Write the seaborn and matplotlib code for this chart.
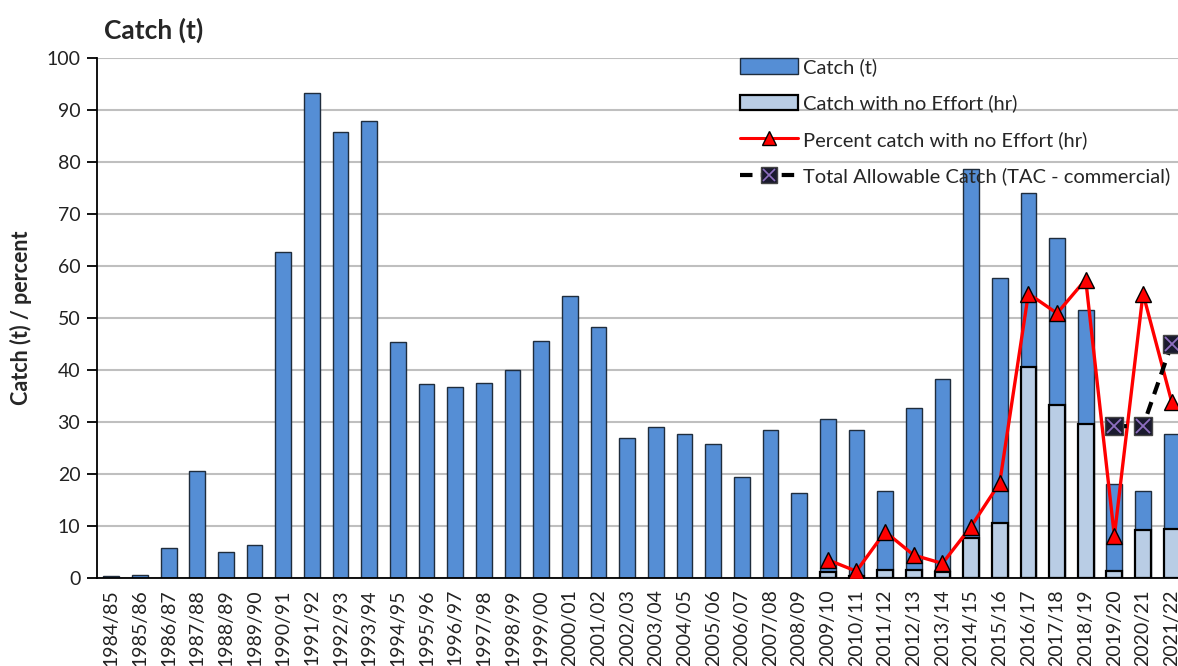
import numpy as np
import pandas as pd
import matplotlib
matplotlib.use("Agg")
import matplotlib.pyplot as plt
from matplotlib.lines import Line2D
from matplotlib.patches import Patch
import seaborn as sns

# -------------------------------
# Data
# -------------------------------
seasons = ["1984/85", "1985/86", "1986/87", "1987/88", "1988/89", "1989/90",
           "1990/91", "1991/92", "1992/93", "1993/94", "1994/95", "1995/96",
           "1996/97", "1997/98", "1998/99", "1999/00", "2000/01", "2001/02",
           "2002/03", "2003/04", "2004/05", "2005/06", "2006/07", "2007/08",
           "2008/09", "2009/10", "2010/11", "2011/12", "2012/13", "2013/14",
           "2014/15", "2015/16", "2016/17", "2017/18", "2018/19", "2019/20",
           "2020/21", "2021/22"]

catch_t = [0.3, 0.5, 5.7, 20.5, 5.0, 6.3,
           62.7, 93.3, 85.8, 87.8, 45.3, 37.3,
           36.7, 37.5, 40.0, 45.5, 54.2, 48.2,
           27.0, 29.0, 27.7, 25.7, 19.5, 28.5,
           16.3, 30.5, 28.5, 16.8, 32.6, 38.3,
           78.7, 57.7, 74.0, 65.3, 51.5, 18.0,
           16.8, 27.7]

no_effort = [0, 0, 0, 0, 0, 0,
             0, 0, 0, 0, 0, 0,
             0, 0, 0, 0, 0, 0,
             0, 0, 0, 0, 0, 0,
             0, 1.2, 0.3, 1.5, 1.5, 1.2,
             7.6, 10.6, 40.6, 33.3, 29.7, 1.4,
             9.2, 9.4]

# percent line starts at 2009/10
pct_seasons = seasons[25:]
pct_no_effort = [3.5, 1.3, 8.9, 4.4, 2.8, 9.9, 18.3, 54.7, 50.9, 57.4, 8.1, 54.7, 33.9]

# TAC starts at 2019/20
tac_seasons = seasons[35:]
tac = [29.2, 29.2, 45.0]

# -------------------------------
# Figure
# -------------------------------
sns.set_style("white")
plt.rcParams['font.family'] = ['Lato', 'DejaVu Sans']

fig = plt.figure(figsize=(11.78, 6.66), dpi=100)
ax = fig.add_axes([97 / 1178, 88 / 666, 1089 / 1178, 520 / 666])

df = pd.DataFrame({"season": seasons, "catch": catch_t, "noeff": no_effort})
pos = {s: i for i, s in enumerate(seasons)}

sns.barplot(data=df, x="season", y="catch", color="#558ED5", saturation=1,
            width=0.55, edgecolor="#1F2D3D", linewidth=1.0, ax=ax, zorder=2)
sns.barplot(data=df, x="season", y="noeff", color="#B9CDE5", saturation=1,
            width=0.55, edgecolor="black", linewidth=1.6, ax=ax, zorder=3)
# hide zero-height light bars
for p in ax.patches[len(seasons):]:
    if p.get_height() == 0:
        p.set_visible(False)

pct_df = pd.DataFrame({"x": [pos[s] for s in pct_seasons], "y": pct_no_effort})
sns.lineplot(data=pct_df, x="x", y="y", color="red", lw=2.4, marker="^",
             markersize=12, markerfacecolor="red", markeredgecolor="black",
             markeredgewidth=1.0, ax=ax, zorder=5)

tac_df = pd.DataFrame({"x": [pos[s] for s in tac_seasons], "y": tac})
sns.lineplot(data=tac_df, x="x", y="y", color="black", lw=3.0, ax=ax, zorder=6,
             dashes=False, linestyle=(0, (3, 2)))
ax.plot(tac_df["x"], tac_df["y"], ls="none", marker="s", markersize=13,
        markerfacecolor="#1A1A2E", markeredgecolor="#444444", zorder=7)
ax.plot(tac_df["x"], tac_df["y"], ls="none", marker="x", markersize=10,
        markeredgecolor="#8E6FBF", markeredgewidth=1.3, zorder=8)

# -------------------------------
# Axes styling
# -------------------------------
ax.set_xlim(-0.5, len(seasons) - 0.5)
ax.set_ylim(0, 100)
ax.set_yticks(range(0, 101, 10))
ax.yaxis.grid(True, color="#BFBFBF", lw=1.5, zorder=0)
ax.set_axisbelow(True)
for sp in ["top", "right"]:
    ax.spines[sp].set_visible(False)
for sp in ["left", "bottom"]:
    ax.spines[sp].set_color("black")
    ax.spines[sp].set_linewidth(1.3)

ax.set_xticks(range(len(seasons)))
ax.set_xticklabels(seasons, rotation=90, fontsize=14, color="#222222")
ax.set_xticks(np.arange(-0.5, len(seasons), 1), minor=True)
ax.tick_params(axis="x", which="major", length=0, pad=8)
ax.tick_params(axis="x", which="minor", length=6, width=1.3, color="black", direction="out")
ax.tick_params(axis="y", length=7, width=1.3, color="black", direction="out",
               labelsize=14, labelcolor="#222222", left=True, pad=5)

ax.set_xlabel("")
ax.set_ylabel("Catch (t) / percent", fontsize=15.5, fontweight="bold", labelpad=10)
fig.text(104 / 1178, 1 - 30 / 666, "Catch (t)", fontsize=19, fontweight="bold",
         va="center", ha="left")

# -------------------------------
# Legend
# -------------------------------
handles = [
    Patch(facecolor="#558ED5", edgecolor="#1F2D3D", lw=1.0),
    Patch(facecolor="#B9CDE5", edgecolor="black", lw=1.6),
    Line2D([], [], color="red", lw=2.2, marker="^", markersize=10,
           markerfacecolor="red", markeredgecolor="black"),
    (Line2D([], [], color="black", lw=3.0, linestyle=(0, (3, 2))),
     Line2D([], [], ls="none", marker="s", markersize=11,
            markerfacecolor="#1A1A2E", markeredgecolor="#444444"),
     Line2D([], [], ls="none", marker="x", markersize=8,
            markeredgecolor="#8E6FBF", markeredgewidth=1.2)),
]
labels = ["Catch (t)", "Catch with no Effort (hr)",
          "Percent catch with no Effort (hr)",
          "Total Allowable Catch (TAC - commercial)"]
fig.legend(handles, labels, loc="upper left", bbox_to_anchor=(732 / 1178, 1 - 50 / 666),
           frameon=False, fontsize=14.5, labelspacing=0.92, handlelength=2.9,
           handleheight=0.8, handletextpad=0.25, borderaxespad=0)

fig.savefig("out.png", dpi=100)
